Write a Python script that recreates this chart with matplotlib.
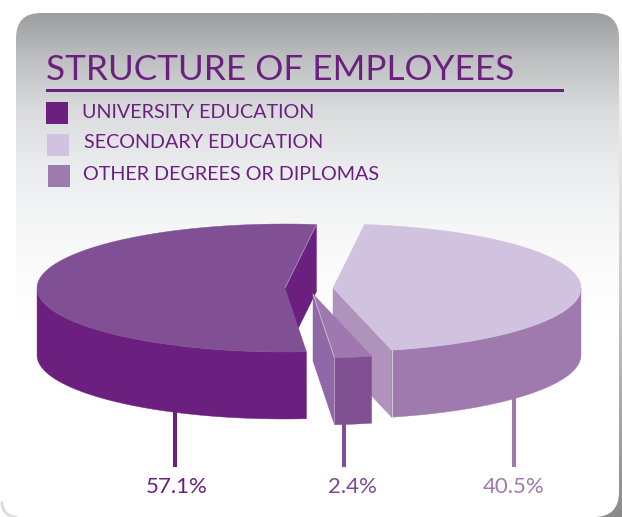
import numpy as np
from matplotlib import pyplot as plt
from matplotlib.colors import LinearSegmentedColormap
from matplotlib.patches import FancyBboxPatch, Polygon, Rectangle

title = "STRUCTURE OF EMPLOYEES"
categories = ["UNIVERSITY EDUCATION", "SECONDARY EDUCATION", "OTHER DEGREES OR DIPLOMAS"]
shares = [57.1, 40.5, 2.4]
bottom_labels = ["57.1%", "2.4%", "40.5%"]

PURPLE = "#6b2080"
W, H = 622, 517

# pie geometry, pixels
RX, RY, DEPTH = 248, 64, 67
START = 13.6
SKEW, SKEW_PHASE = 7.0, 78.0


def view_angle(theta):
    # the tilted camera stretches the near side of the pie a little
    return theta + SKEW * np.sin(np.radians(theta - SKEW_PHASE))


def rim(cx, cy, t):
    t = np.radians(t)
    return np.column_stack([cx + RX * np.sin(t), cy - RY * np.cos(t)])


def poly(ax, pts, color, z):
    ax.add_patch(Polygon(pts, closed=True, fc=color, ec=color, lw=0.3, zorder=z))


def seam(ax, a, b, z, alpha=0.45):
    ax.plot([a[0], b[0]], [a[1], b[1]], color="white", lw=0.7, alpha=alpha, zorder=z,
            solid_capstyle="butt")


def draw_slice(ax, cx, cy, t0, t1, top, side, wall_a, wall_b, z):
    apex = np.array([cx, cy])
    down = np.array([0, DEPTH])
    ts = np.linspace(t0, t1, 120)
    arc = rim(cx, cy, ts)
    a, b = arc[0], arc[-1]
    if wall_a:
        poly(ax, [apex, a, a + down, apex + down], wall_a, z)
    if wall_b:
        poly(ax, [apex, b, b + down, apex + down], wall_b, z)
    front = ts[(ts >= 90) & (ts <= 270)]
    if len(front):
        edge = rim(cx, cy, front)
        poly(ax, np.vstack([edge, (edge + down)[::-1]]), side, z + 0.1)
    poly(ax, np.vstack([apex, arc]), top, z + 0.2)
    return a, b


fig = plt.figure(figsize=(W / 100, H / 100), dpi=100)
ax = fig.add_axes([0, 0, 1, 1])
ax.set_xlim(0, W)
ax.set_ylim(H, 0)
ax.axis("off")

# shadow down the right side and along the lower left corner
shadow = LinearSegmentedColormap.from_list("sh", ["#ffffff", "#d0d0d0", "#8a8a8a"])
ax.imshow(np.linspace(0, 1, 256)[:, None], extent=[596, W, H, 20], cmap=shadow,
          aspect="auto", zorder=0)
corner = np.linspace(0, np.pi / 2, 20)
ax.plot(16 - 14 * np.cos(corner), 503 + 14 * np.sin(corner), color="#dcdcdc", lw=2, zorder=0)

# panel with grey fade at the top
panel = FancyBboxPatch((16, 13), 603, 504, boxstyle="round,pad=0,rounding_size=25",
                       fc="white", ec="none", zorder=1)
ax.add_patch(panel)
fade = LinearSegmentedColormap.from_list("fade", [
    (0.0, "#9d9ea0"), (0.153, "#bfc0c2"), (0.316, "#dadbdd"), (0.479, "#e9eaeb"),
    (0.612, "#f1f2f3"), (0.71, "#f6f7f7"), (0.808, "#fafafa"), (1.0, "#ffffff")])
img = ax.imshow(np.linspace(0, 1, 256)[:, None], extent=[16, 619, 320, 13], cmap=fade,
                aspect="auto", zorder=1.5)
img.set_clip_path(panel)
ax.set_xlim(0, W)
ax.set_ylim(H, 0)

ax.text(46, 80, title, color=PURPLE, fontsize=25.3, family="Lato", va="baseline", ha="left", zorder=5)
ax.add_patch(Rectangle((46, 88.5), 518, 3.6, fc=PURPLE, ec="none", zorder=5))

swatch_colors = [PURPLE, "#d1c3df", "#9f7aaf"]
swatch_x = [46, 47, 48]
swatch_y = [102, 134, 165]
legend_x = [82, 84, 83]
legend_y = [113, 143, 174]
for name, c, sx, sy, lx, ly in zip(categories, swatch_colors, swatch_x, swatch_y, legend_x, legend_y):
    ax.add_patch(Rectangle((sx, sy), 22, 22, fc=c, ec="none", zorder=5))
    ax.text(lx, ly, name, color=PURPLE, fontsize=14.2, family="Lato", va="center", ha="left", zorder=5)

# slice boundaries, clockwise from the top of the pie
sec0 = START
sec1 = sec0 + shares[1] * 3.6
oth1 = sec1 + shares[2] * 3.6
uni1 = oth1 + shares[0] * 3.6
t_sec0, t_sec1, t_oth1, t_uni1 = [view_angle(v) for v in (sec0, sec1, oth1, uni1)]

# leader lines run behind the pie
leader_x = [175, 344, 514]
leader_colors = [PURPLE, "#815093", "#9f7aaf"]
label_x = [177, 352, 514]
label_colors = [PURPLE, "#7e4a92", "#9f7aaf"]
for x, c in zip(leader_x, leader_colors):
    ax.plot([x, x], [340, 467], color=c, lw=2.9, solid_capstyle="butt", zorder=2)
for s, x, c in zip(bottom_labels, label_x, label_colors):
    ax.text(x, 487, s, color=c, fontsize=16, family="Lato", va="center", ha="center", zorder=5)

a, b = draw_slice(ax, 333, 288, t_sec0, t_sec1, "#d1c3df", "#9f7aaf", None, "#af93bd", 3)
seam(ax, b, b + [0, DEPTH], 3.5, 0.6)

a, b = draw_slice(ax, 285, 288, t_oth1, t_uni1, "#814f94", PURPLE, None, PURPLE, 3.6)
seam(ax, [285, 288], b, 4.1, 0.3)

a, b = draw_slice(ax, 313, 294, t_sec1, t_oth1, "#9e78af", "#815093", None, "#8f69a6", 4.2)
seam(ax, [313, 294], b, 4.6)
seam(ax, b, b + [0, DEPTH], 4.6, 0.35)

fig.savefig("out.png", dpi=100)
